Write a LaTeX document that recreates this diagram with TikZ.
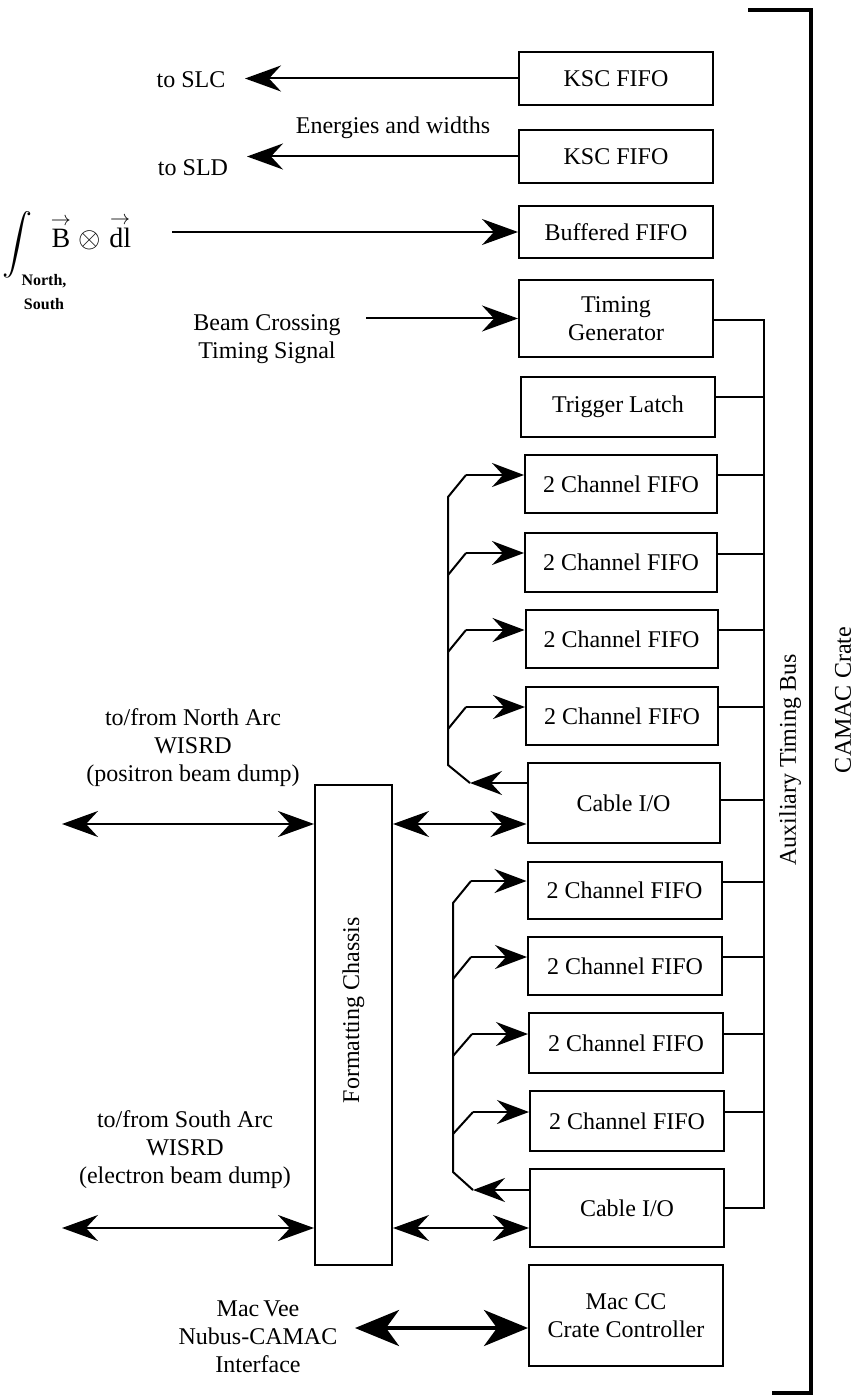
\documentclass[tikz,border=0pt]{standalone}
\usepackage{fontspec}
\usepackage{graphicx}
\setmainfont{Liberation Serif}
\usetikzlibrary{arrows.meta}
\begin{document}
\begin{tikzpicture}[x=0.5pt,y=-0.5pt,
  every node/.style={font=\fontsize{12}{14}\selectfont},
  box/.style={draw,line width=1pt,inner sep=0pt,minimum width=97pt,align=center},
  ln/.style={line width=1pt},
  tip/.tip={Stealth[length=18pt,width=13pt,inset=6pt]},
  ftip/.tip={Stealth[length=16pt,width=12pt,inset=5.5pt]},
  ttip/.tip={Stealth[length=22pt,width=18pt,inset=6.5pt]},
  arr/.style={line width=1pt,-tip},
  farr/.style={line width=1pt,-ftip},
  darr/.style={line width=1pt,tip-tip},
  tarr/.style={line width=2pt,ttip-ttip},
  lbl/.style={align=center,inner sep=0pt}]
\useasboundingbox (0,0) rectangle (859,1400);
% boxes
\node[box,minimum height=26.5pt] (ksc1) at (616,78.5) {KSC FIFO};
\node[box,minimum height=26.5pt] (ksc2) at (616,156.5) {KSC FIFO};
\node[box,minimum height=26pt] (buf) at (616,232) {Buffered FIFO};
\node[box,minimum height=38.5pt] (tg) at (616,318.5) {Timing\\Generator};
\node[box,minimum height=30pt] (tl) at (618,407) {Trigger Latch};
\node[box,minimum width=96pt,minimum height=29pt] (f1) at (621,484) {2 Channel FIFO};
\node[box,minimum width=96pt,minimum height=29.5pt] (f2) at (621,562.5) {2 Channel FIFO};
\node[box,minimum width=96pt,minimum height=29pt] (f3) at (621.5,639) {2 Channel FIFO};
\node[box,minimum width=96pt,minimum height=29pt] (f4) at (622,716) {2 Channel FIFO};
\node[box,minimum width=96pt,minimum height=40pt] (cio1) at (623.5,803) {Cable I/O};
\node[box,minimum width=97pt,minimum height=28.5pt] (f5) at (624.5,890.5) {2 Channel FIFO};
\node[box,minimum width=97pt,minimum height=29pt] (f6) at (625,966) {2 Channel FIFO};
\node[box,minimum width=97pt,minimum height=30pt] (f7) at (626,1043) {2 Channel FIFO};
\node[box,minimum width=97pt,minimum height=30pt] (f8) at (627,1121) {2 Channel FIFO};
\node[box,minimum width=97pt,minimum height=39pt] (cio2) at (627,1208) {Cable I/O};
\node[box,minimum width=97pt,minimum height=50.5pt] (mac) at (626,1315.5) {Mac CC\\Crate Controller};
\node[box,minimum width=38.5pt,minimum height=240pt] (fc) at (353.5,1025) {};
\node[rotate=90] (fctext) at (353.5,1010) {Formatting Chassis};
% auxiliary timing bus
\coordinate (bustop) at (764,320);
\coordinate (busbot) at (764,1208);
\draw[ln] (tg.east |- bustop) -- (bustop) -- (busbot) -- (cio2.east |- busbot);
\draw[ln] ([yshift=5pt]tl.east) -- ([yshift=5pt]tl.east -| bustop);
\foreach \b in {f1,f2,f3,f4,f5,f6,f7,f8}
  \draw[ln] ([yshift=4.5pt]\b.east) -- ([yshift=4.5pt]\b.east -| bustop);
\draw[ln] ([yshift=1.5pt]cio1.east) -- ([yshift=1.5pt]cio1.east -| bustop);
\node[rotate=90] (atb) at (790,760) {Auxiliary Timing Bus};
% crate bracket
\coordinate (bt1) at (748,10);
\coordinate (bt2) at (811,10);
\coordinate (bb2) at (811,1393);
\coordinate (bb1) at (772,1393);
\draw[line width=2pt] (bt1) -- (bt2) -- (bb2) -- (bb1);
\node[rotate=90] (cc) at (843,700) {CAMAC Crate};
% top outputs
\node[lbl] (slc) at (191,80) {to SLC};
\node[lbl] (sld) at (193,168) {to SLD};
\node[lbl] (ew) at (393,128) {Energies and widths};
\coordinate (slcend) at (245,78.5);
\coordinate (sldend) at (247,156.5);
\draw[arr] (ksc1.west) -- (slcend);
\draw[arr] (ksc2.west) -- (sldend);
% integral
\node[inner sep=0pt] (int) at (18,245) {\scalebox{1.5}{$\displaystyle\int$}};
\node[inner sep=0pt,anchor=base,font=\fontsize{14}{14}\selectfont] (bdl) at (91,248) {$\stackrel{\rightarrow}{\hbox{B}}\otimes\stackrel{\rightarrow}{\hbox{dl}}$};
\node[lbl,font=\bfseries\fontsize{8}{12}\selectfont] (ns) at (44,292) {North,\\South};
\coordinate (bstart) at (172,232);
\draw[arr] (bstart) -- (buf.west);
% beam crossing
\node[lbl] (bc) at (267,339) {Beam Crossing\\Timing Signal};
\coordinate (bcstart) at (366,318.5);
\draw[arr] (bcstart) -- (tg.west);
% fan group 1
\coordinate (a1) at (466,475);
\coordinate (a2) at (466,553);
\coordinate (a3) at (466,630);
\coordinate (a4) at (466,707);
\coordinate (r1) at (470,783);
\draw[ln] (a1) -- (448,497) -- (448,765) -- (r1);
\draw[ln] (448,575) -- (a2);
\draw[ln] (448,652) -- (a3);
\draw[ln] (448,729) -- (a4);
\draw[farr] (a1) -- (a1 -| f1.west);
\draw[farr] (a2) -- (a2 -| f2.west);
\draw[farr] (a3) -- (a3 -| f3.west);
\draw[farr] (a4) -- (a4 -| f4.west);
\draw[farr] (r1 -| cio1.west) -- (r1);
% fan group 2
\coordinate (a5) at (471,881);
\coordinate (a6) at (471,957);
\coordinate (a7) at (472,1034);
\coordinate (a8) at (473,1112);
\coordinate (r2) at (473,1190);
\draw[ln] (a5) -- (453,903) -- (453,1172) -- (r2);
\draw[ln] (453,979) -- (a6);
\draw[ln] (453,1056) -- (a7);
\draw[ln] (453,1134) -- (a8);
\draw[farr] (a5) -- (a5 -| f5.west);
\draw[farr] (a6) -- (a6 -| f6.west);
\draw[farr] (a7) -- (a7 -| f7.west);
\draw[farr] (a8) -- (a8 -| f8.west);
\draw[farr] (r2 -| cio2.west) -- (r2);
% north / south arcs
\node[lbl] (north) at (193,748) {to/from North Arc\\WISRD\\(positron beam dump)};
\node[lbl] (south) at (185,1150) {to/from South Arc\\WISRD\\(electron beam dump)};
\coordinate (n1) at (62,824);
\coordinate (s1) at (62,1228);
\draw[darr] (n1) -- (n1 -| fc.west);
\draw[darr] (n1 -| fc.east) -- (n1 -| cio1.west);
\draw[darr] (s1) -- (s1 -| fc.west);
\draw[darr] (s1 -| fc.east) -- (s1 -| cio2.west);
% macvee
\node[lbl] (mv) at (258,1337) {Mac\,Vee\\Nubus-CAMAC\\Interface};
\coordinate (mvend) at (355,1328);
\draw[tarr] (mvend) -- (mvend -| mac.west);
\end{tikzpicture}
\end{document}
